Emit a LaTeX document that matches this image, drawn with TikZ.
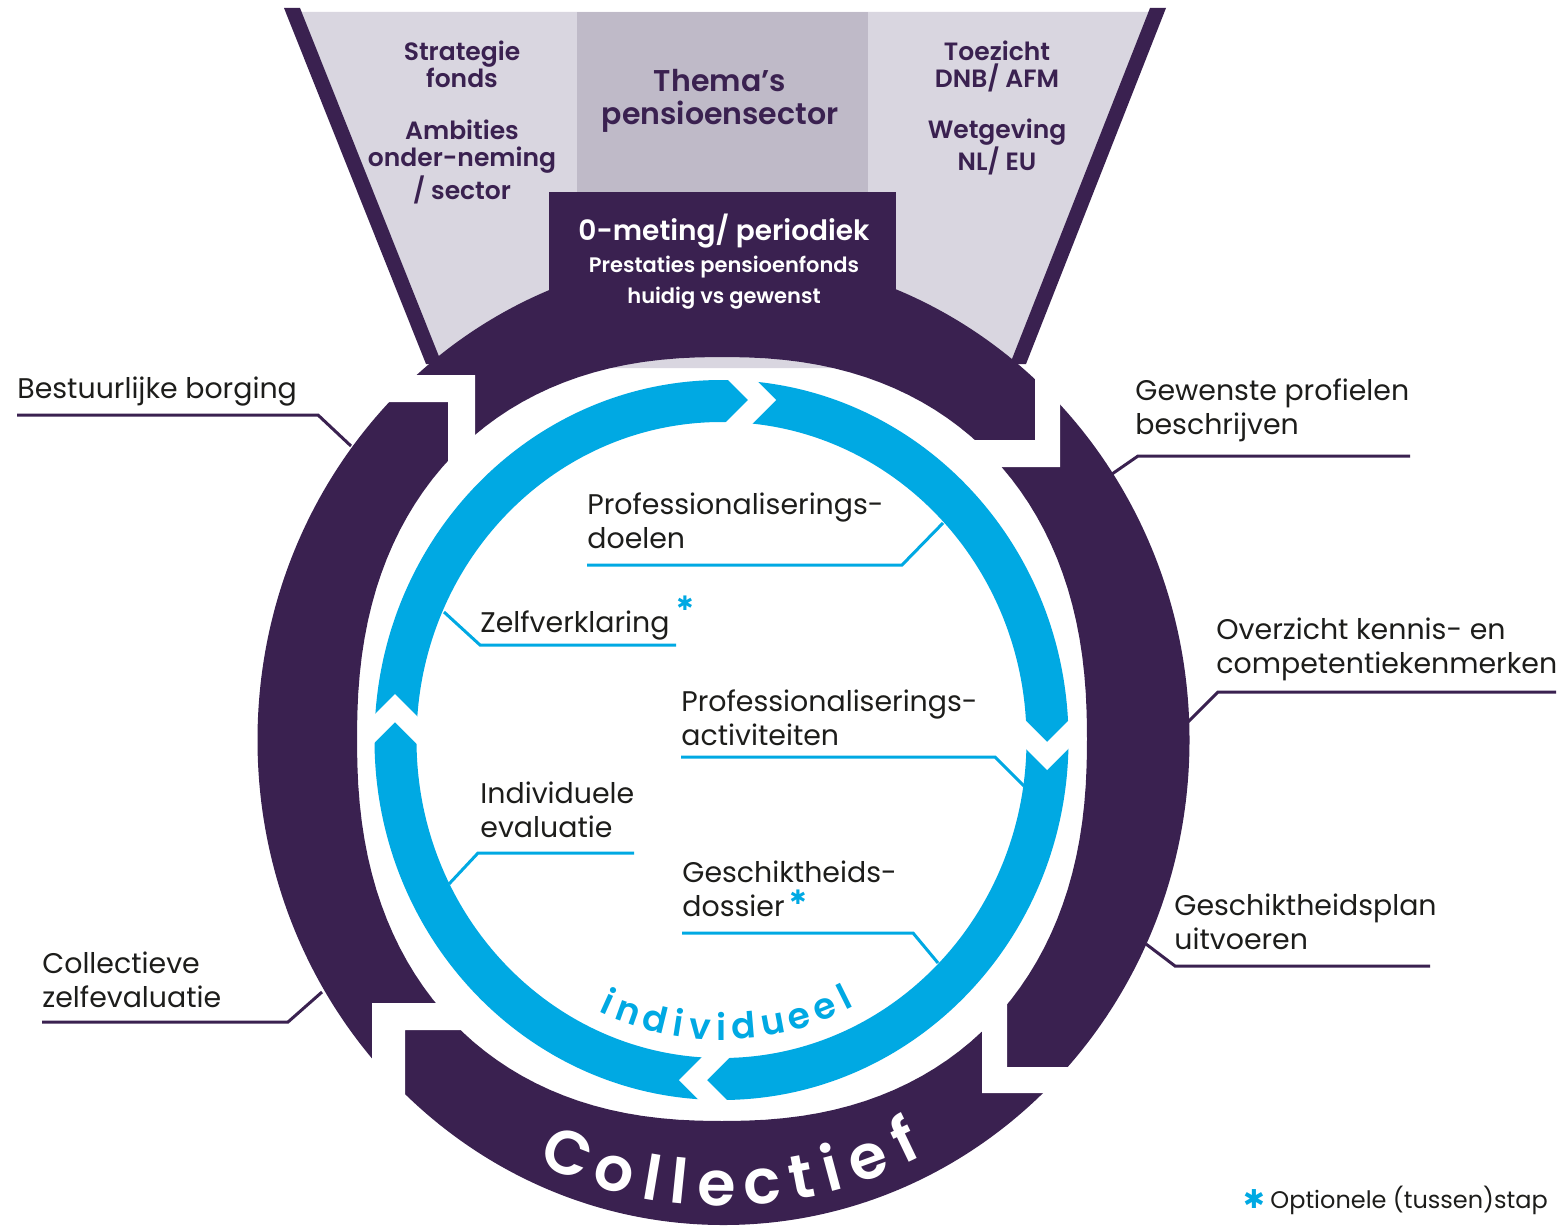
\documentclass[tikz,border=0pt]{standalone}
\usepackage{fontspec}
\setmainfont{Poppins}[BoldFont={Poppins SemiBold}]
\newfontfamily\symbolfont{DejaVu Sans}
\definecolor{plum}{RGB}{58,33,80}
\definecolor{sky}{RGB}{0,169,227}
\definecolor{fogA}{RGB}{217,214,224}
\definecolor{fogB}{RGB}{191,186,200}
\definecolor{ink}{RGB}{29,29,27}
\begin{document}
\begin{tikzpicture}[x={(0.5pt,0)}, y={(0,-0.5pt)},
  % multi-line nodes are placed by the baseline of their last line
  label/.style={anchor=base west, align=left, inner sep=0pt, text=ink,
    font=\fontsize{14.2}{17}\selectfont},
  funneltext/.style={anchor=base, align=center, inner sep=0pt, text=plum,
    font=\fontsize{12.5}{13.75}\selectfont\bfseries},
  boxtext/.style={anchor=base, align=center, inner sep=0pt, text=white},
  leader/.style={draw=plum, line width=1.5pt},
  bleader/.style={draw=sky, line width=1.5pt},
  cut/.style={fill=white},
  star/.style={inner sep=0pt, text=sky, font=\symbolfont\fontsize{10}{10}\selectfont},
  ringletter/.style={anchor=base, inner sep=0pt, text=white,
    font=\fontsize{31}{32}\selectfont\bfseries},
  loopletter/.style={anchor=base, inner sep=0pt, text=sky,
    font=\fontsize{18}{19}\selectfont\bfseries},
]
\useasboundingbox (0,0) rectangle (1561,1225);
\fill[white] (0,0) rectangle (1561,1225);

% ---- funnel of inputs ----
\fill[fogA] (298,12) -- (1152,12) -- (1012,368) -- (438,368) -- cycle;
\fill[fogB] (577,12) rectangle (868,192);
\fill[plum] (284,8) -- (300,8) -- (442,364) -- (426,364) -- cycle;
\fill[plum] (1150,8) -- (1166,8) -- (1026,364) -- (1010,364) -- cycle;

% ---- outer (collective) ring ----
\fill[plum, even odd rule] (723.5,740) ellipse [x radius=466, y radius=485]
  plot[domain=0:360, samples=145, variable=\t]
  ({722+365*cos(\t)*pow(abs(cos(\t))+0.0001,-0.13)},
   {739+382*sin(\t)*pow(abs(sin(\t))+0.0001,-0.13)}) -- cycle;
\fill[plum] (549,192) rectangle (896,356);

% stepped gaps between the four outer arrows
\fill[cut] (372,375) -- (475,375) -- (475,478) -- (448,478) -- (448,402) -- (372,402) -- cycle;
\fill[cut] (1035,368) -- (1060,368) -- (1060,467) -- (958,467) -- (958,440) -- (1035,440) -- cycle;
\fill[cut] (982,988) -- (1007,988) -- (1007,1067) -- (1090,1067) -- (1090,1093) -- (982,1093) -- cycle;
\fill[cut] (372,1003) -- (472,1003) -- (472,1030) -- (405,1030) -- (405,1112) -- (372,1112) -- cycle;

% ---- inner (individual) ring ----
\fill[sky, even odd rule] (721.5,740) ellipse [x radius=347, y radius=360]
  (721.5,740) ellipse [x radius=305, y radius=318];

% chevron gaps between the four inner arrows
\fill[cut] (722,374) -- (748,400) -- (722,426) -- (750,426) -- (776,400) -- (750,374) -- cycle;
\fill[cut] (1073,716) -- (1047,742) -- (1021,716) -- (1021,744) -- (1047,770) -- (1073,744) -- cycle;
\fill[cut] (733,1106) -- (707,1080) -- (733,1054) -- (705,1054) -- (679,1080) -- (705,1106) -- cycle;
\fill[cut] (369,748) -- (395,722) -- (421,748) -- (421,720) -- (395,694) -- (369,720) -- cycle;

% ---- funnel texts ----
\node[funneltext] (strat) at (462,88) {Strategie\\fonds};
\node[funneltext] (amb) at (462,199) {Ambities\\onder-neming\\/ sector};
\node[funneltext, font=\fontsize{15}{16.5}\selectfont\bfseries] (thema) at (720,125) {Thema’s\\pensioensector};
\node[funneltext] (toez) at (997,88) {Toezicht\\DNB/ AFM};
\node[funneltext] (wet) at (997,171) {Wetgeving\\NL/ EU};
\node[boxtext, font=\fontsize{14}{16}\selectfont\bfseries] (meting) at (724,241) {0-meting/ periodiek};
\node[boxtext, font=\fontsize{10.5}{15.5}\selectfont\bfseries] (prest) at (724,303) {Prestaties pensioenfonds\\huidig vs gewenst};

% ---- outer labels ----
\node[label] (best) at (17,398) {Bestuurlijke borging};
\node[label] (gew) at (1135,434) {Gewenste profielen\\beschrijven};
\node[label] (ovz) at (1216,673) {Overzicht kennis- en\\competentiekenmerken};
\node[label] (gplan) at (1174,949) {Geschiktheidsplan\\uitvoeren};
\node[label] (coll) at (42,1007) {Collectieve\\zelfevaluatie};

\coordinate (bbA) at (17,415);   \coordinate (bbK) at (318,415);  \coordinate (bbR) at (351,446);
\coordinate (gwA) at (1410,456); \coordinate (gwK) at (1138,456); \coordinate (gwR) at (1112,474);
\coordinate (ovA) at (1556,692); \coordinate (ovK) at (1218,692); \coordinate (ovR) at (1188,722);
\coordinate (gpA) at (1430,966); \coordinate (gpK) at (1175,966); \coordinate (gpR) at (1146,944);
\coordinate (czA) at (42,1022);  \coordinate (czK) at (288,1022); \coordinate (czR) at (322,992);
\draw[leader] (bbA) -- (bbK) -- (bbR);
\draw[leader] (gwA) -- (gwK) -- (gwR);
\draw[leader] (ovA) -- (ovK) -- (ovR);
\draw[leader] (gpA) -- (gpK) -- (gpR);
\draw[leader] (czA) -- (czK) -- (czR);

% ---- inner labels ----
\node[label] (pdoel) at (587,548) {Professionaliserings-\\doelen};
\node[label] (zelf) at (480,632) {Zelfverklaring};
\node[label] (pact) at (681,745) {Professionaliserings-\\activiteiten};
\node[label] (ieval) at (480,837) {Individuele\\evaluatie};
\node[label] (gdos) at (682,916) {Geschiktheids-\\dossier};
\node[star] (st1) at (685,603) {✱};
\node[star] (st2) at (798,897) {✱};

\coordinate (pdA) at (587,565); \coordinate (pdK) at (902,565); \coordinate (pdR) at (943,523);
\coordinate (zvA) at (676,645); \coordinate (zvK) at (480,645); \coordinate (zvR) at (444,612);
\coordinate (paA) at (681,757); \coordinate (paK) at (995,757); \coordinate (paR) at (1024,786);
\coordinate (ieA) at (634,853); \coordinate (ieK) at (478,853); \coordinate (ieR) at (449,884);
\coordinate (gdA) at (682,933); \coordinate (gdK) at (913,933); \coordinate (gdR) at (938,963);
\draw[bleader] (pdA) -- (pdK) -- (pdR);
\draw[bleader] (zvA) -- (zvK) -- (zvR);
\draw[bleader] (paA) -- (paK) -- (paR);
\draw[bleader] (ieA) -- (ieK) -- (ieR);
\draw[bleader] (gdA) -- (gdK) -- (gdR);

% ---- lettering along the rings ----
\foreach \ch/\ang [count=\k] in {C/111.5, o/104.7, l/99.5, l/95.8, e/90.7, c/84.5, t/79.2, i/75.0, e/69.9, f/64.4}
  \node[ringletter, rotate={90-\ang}] (cl\k) at ({722+444*cos(\ang)},{740+466*sin(\ang)}) {\ch};
\foreach \ch/\ang [count=\k] in {i/114.3, n/109.7, d/103.8, i/99.0, v/94.5, i/90.0, d/85.3, u/79.3, e/73.7, e/68.1, l/63.6}
  \node[loopletter, rotate={90-\ang}] (il\k) at ({721.5+288*cos(\ang)},{740+300*sin(\ang)}) {\ch};

% ---- legend ----
\node[star, font=\symbolfont\fontsize{13}{13}\selectfont] (st3) at (1254,1199) {✱};
\node[anchor=base west, inner sep=0pt, text=ink, font=\fontsize{12}{14}\selectfont] (legend) at (1270,1208) {Optionele (tussen)stap};
\end{tikzpicture}
\end{document}
